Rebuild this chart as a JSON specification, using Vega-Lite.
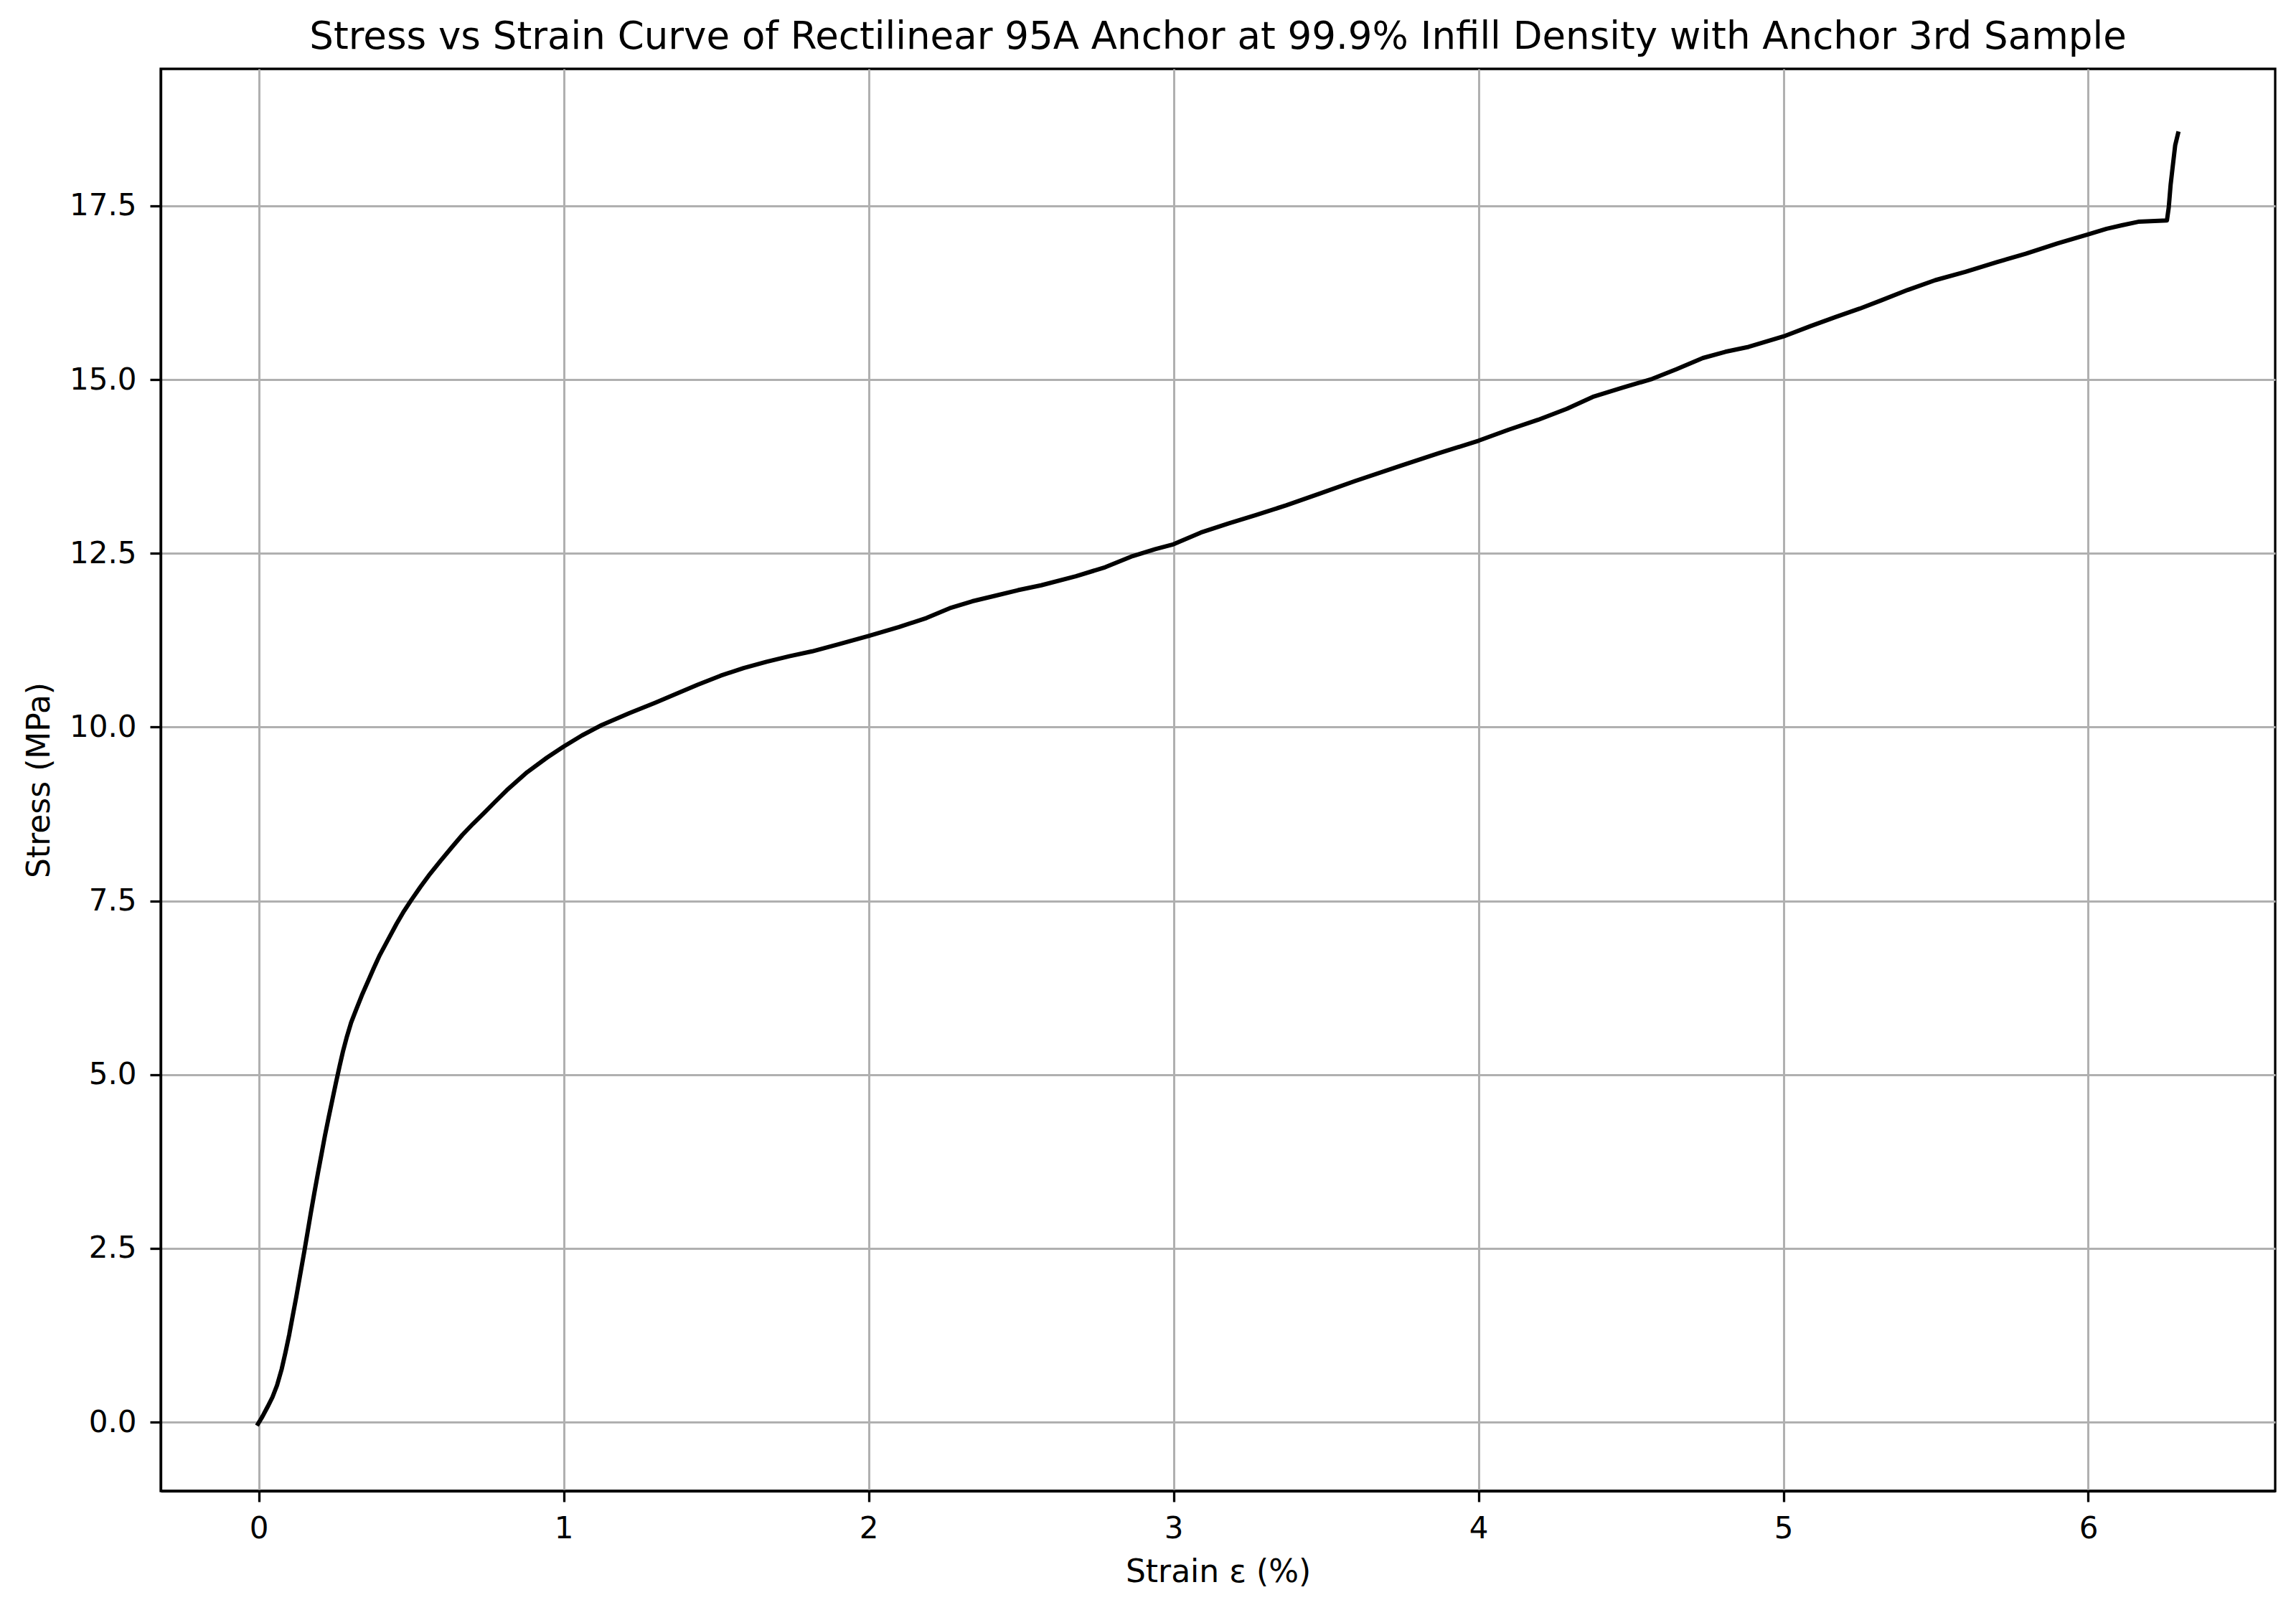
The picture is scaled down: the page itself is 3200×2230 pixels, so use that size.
{
  "$schema": "https://vega.github.io/schema/vega-lite/v6.json",
  "width": 2947,
  "height": 1982,
  "autosize": {"type": "none"},
  "padding": {"left": 224, "top": 96, "right": 29, "bottom": 152},
  "background": "white",
  "config": {
    "font": "DejaVu Sans",
    "view": {"stroke": "black", "strokeWidth": 3.3},
    "axis": {
      "domainColor": "black",
      "domainWidth": 3.3,
      "tickColor": "black",
      "tickWidth": 3.3,
      "tickSize": 15,
      "gridColor": "#b0b0b0",
      "gridWidth": 3,
      "gridOpacity": 1,
      "labelFont": "DejaVu Sans",
      "labelFontSize": 42,
      "labelColor": "black",
      "titleFont": "DejaVu Sans",
      "titleFontSize": 44,
      "titleFontWeight": "normal",
      "titleColor": "black"
    }
  },
  "title": {
    "text": "Stress vs Strain Curve of Rectilinear 95A Anchor at 99.9% Infill Density with Anchor 3rd Sample",
    "font": "DejaVu Sans",
    "fontSize": 53,
    "fontWeight": "normal",
    "color": "black",
    "anchor": "middle",
    "offset": 17
  },
  "data": {
    "values": [
      {"strain": -0.006, "stress": -0.05},
      {"strain": 0.012, "stress": 0.08},
      {"strain": 0.029, "stress": 0.22},
      {"strain": 0.045, "stress": 0.36},
      {"strain": 0.06, "stress": 0.53},
      {"strain": 0.075, "stress": 0.76},
      {"strain": 0.088, "stress": 1.01},
      {"strain": 0.1, "stress": 1.26},
      {"strain": 0.111, "stress": 1.52},
      {"strain": 0.123, "stress": 1.8},
      {"strain": 0.135, "stress": 2.1},
      {"strain": 0.15, "stress": 2.47},
      {"strain": 0.16, "stress": 2.73},
      {"strain": 0.17, "stress": 2.99},
      {"strain": 0.182, "stress": 3.29},
      {"strain": 0.194, "stress": 3.58},
      {"strain": 0.206, "stress": 3.86},
      {"strain": 0.217, "stress": 4.12},
      {"strain": 0.229, "stress": 4.38},
      {"strain": 0.241, "stress": 4.63},
      {"strain": 0.253, "stress": 4.88},
      {"strain": 0.265, "stress": 5.12},
      {"strain": 0.276, "stress": 5.33},
      {"strain": 0.288, "stress": 5.53},
      {"strain": 0.303, "stress": 5.75},
      {"strain": 0.319, "stress": 5.93},
      {"strain": 0.338, "stress": 6.14},
      {"strain": 0.358, "stress": 6.34},
      {"strain": 0.377, "stress": 6.53},
      {"strain": 0.397, "stress": 6.72},
      {"strain": 0.425, "stress": 6.95},
      {"strain": 0.452, "stress": 7.17},
      {"strain": 0.476, "stress": 7.35},
      {"strain": 0.5, "stress": 7.51},
      {"strain": 0.53, "stress": 7.7},
      {"strain": 0.562, "stress": 7.89},
      {"strain": 0.597, "stress": 8.08},
      {"strain": 0.633, "stress": 8.27},
      {"strain": 0.668, "stress": 8.45},
      {"strain": 0.703, "stress": 8.61},
      {"strain": 0.74, "stress": 8.77},
      {"strain": 0.774, "stress": 8.92},
      {"strain": 0.813, "stress": 9.09},
      {"strain": 0.88, "stress": 9.35},
      {"strain": 0.945, "stress": 9.56},
      {"strain": 1.0, "stress": 9.72},
      {"strain": 1.06, "stress": 9.88},
      {"strain": 1.125, "stress": 10.03},
      {"strain": 1.215, "stress": 10.2},
      {"strain": 1.3, "stress": 10.35},
      {"strain": 1.365, "stress": 10.47},
      {"strain": 1.44, "stress": 10.61},
      {"strain": 1.515, "stress": 10.74},
      {"strain": 1.59, "stress": 10.85},
      {"strain": 1.665, "stress": 10.94},
      {"strain": 1.74, "stress": 11.02},
      {"strain": 1.815, "stress": 11.09},
      {"strain": 1.9, "stress": 11.19},
      {"strain": 2.0, "stress": 11.31},
      {"strain": 2.1, "stress": 11.44},
      {"strain": 2.19, "stress": 11.57},
      {"strain": 2.266, "stress": 11.71},
      {"strain": 2.34, "stress": 11.81},
      {"strain": 2.416, "stress": 11.89},
      {"strain": 2.49, "stress": 11.97},
      {"strain": 2.566, "stress": 12.04},
      {"strain": 2.68, "stress": 12.17},
      {"strain": 2.776, "stress": 12.3},
      {"strain": 2.866, "stress": 12.46},
      {"strain": 2.94, "stress": 12.56},
      {"strain": 3.0, "stress": 12.63},
      {"strain": 3.09, "stress": 12.8},
      {"strain": 3.18, "stress": 12.93},
      {"strain": 3.27, "stress": 13.05},
      {"strain": 3.369, "stress": 13.19},
      {"strain": 3.48, "stress": 13.36},
      {"strain": 3.595, "stress": 13.54},
      {"strain": 3.745, "stress": 13.76},
      {"strain": 3.87, "stress": 13.94},
      {"strain": 4.0, "stress": 14.12},
      {"strain": 4.1, "stress": 14.28},
      {"strain": 4.195, "stress": 14.42},
      {"strain": 4.29, "stress": 14.58},
      {"strain": 4.375, "stress": 14.75},
      {"strain": 4.47, "stress": 14.88},
      {"strain": 4.57, "stress": 15.01},
      {"strain": 4.65, "stress": 15.15},
      {"strain": 4.736, "stress": 15.31},
      {"strain": 4.81, "stress": 15.4},
      {"strain": 4.886, "stress": 15.47},
      {"strain": 5.0, "stress": 15.62},
      {"strain": 5.09, "stress": 15.77},
      {"strain": 5.171, "stress": 15.9},
      {"strain": 5.25, "stress": 16.02},
      {"strain": 5.321, "stress": 16.14},
      {"strain": 5.408, "stress": 16.29},
      {"strain": 5.498, "stress": 16.43},
      {"strain": 5.597, "stress": 16.55},
      {"strain": 5.7, "stress": 16.69},
      {"strain": 5.795, "stress": 16.81},
      {"strain": 5.9, "stress": 16.96},
      {"strain": 6.0, "stress": 17.09},
      {"strain": 6.06, "stress": 17.17},
      {"strain": 6.11, "stress": 17.22},
      {"strain": 6.164, "stress": 17.27},
      {"strain": 6.258, "stress": 17.29},
      {"strain": 6.264, "stress": 17.48},
      {"strain": 6.27, "stress": 17.8},
      {"strain": 6.276, "stress": 18.03},
      {"strain": 6.285, "stress": 18.37},
      {"strain": 6.296, "stress": 18.57}
    ]
  },
  "mark": {"type": "line", "color": "black", "strokeWidth": 6, "clip": true, "strokeJoin": "round", "strokeCap": "butt"},
  "encoding": {
    "x": {
      "field": "strain",
      "type": "quantitative",
      "sort": null,
      "scale": {"domain": [-0.3215, 6.613], "nice": false, "zero": false},
      "axis": {"values": [0, 1, 2, 3, 4, 5, 6], "format": "d", "labelPadding": 17, "titlePadding": 18, "title": "Strain ε (%)"}
    },
    "y": {
      "field": "stress",
      "type": "quantitative",
      "scale": {"domain": [-0.99, 19.47], "nice": false, "zero": false},
      "axis": {"values": [0, 2.5, 5, 7.5, 10, 12.5, 15, 17.5], "format": ".1f", "labelPadding": 19, "titlePadding": 19, "title": "Stress (MPa)"}
    }
  }
}
